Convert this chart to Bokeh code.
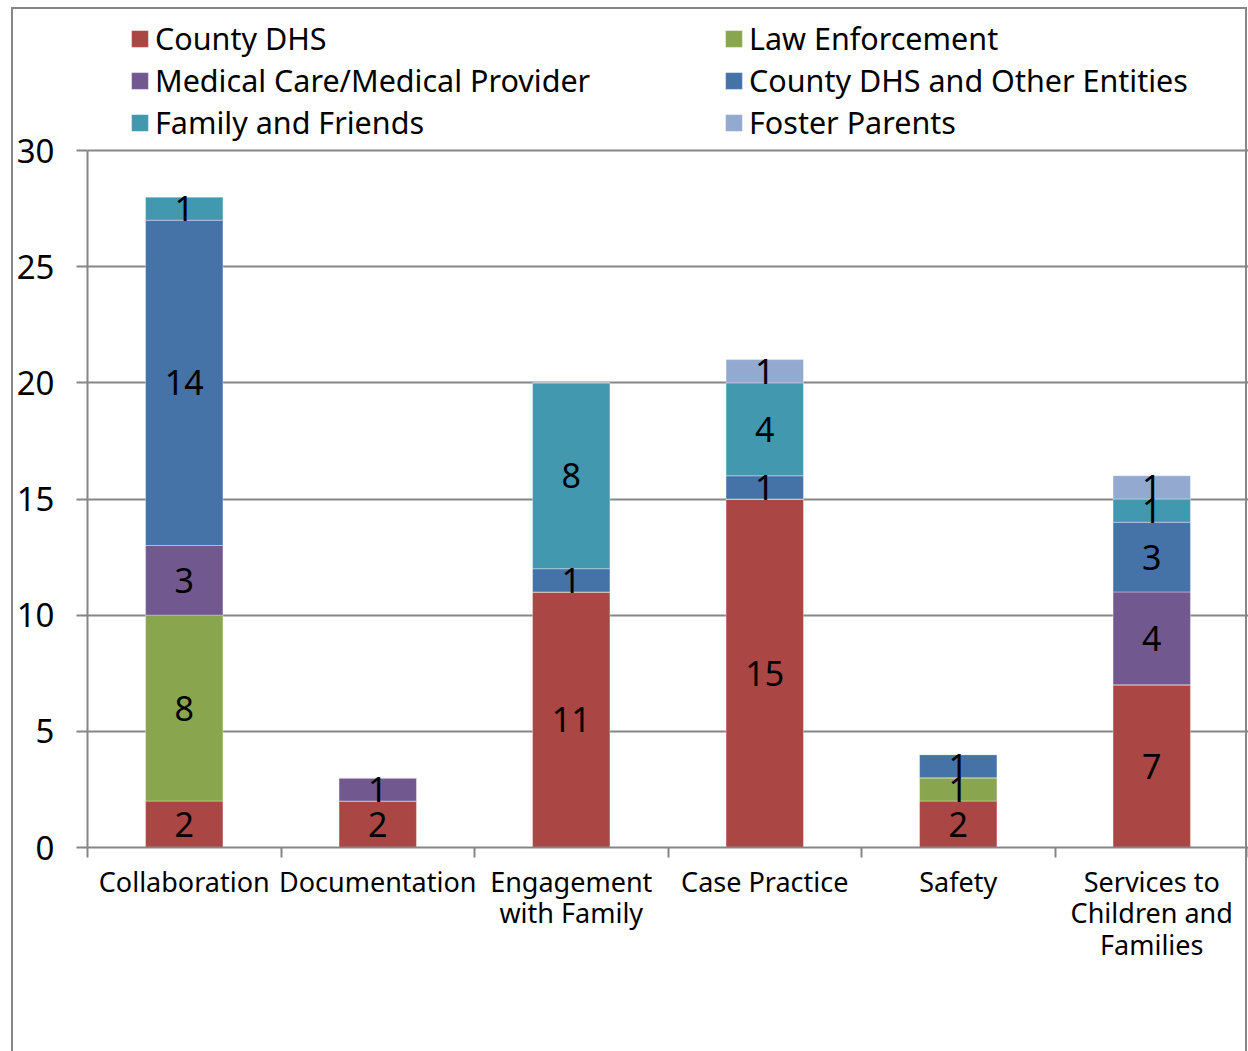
from bokeh.plotting import figure
from bokeh.models import (LinearAxis, FixedTicker, Range1d, ColumnDataSource,
                          Legend, LegendItem, Grid, InlineStyleSheet)
from bokeh.core.properties import value
from bokeh.embed import file_html
from bokeh.resources import INLINE

# ---- data -------------------------------------------------------------
categories = ["Collaboration", "Documentation", "Engagement\nwith Family",
              "Case Practice", "Safety", "Services to\nChildren and\nFamilies"]
series_names = ["County DHS", "Law Enforcement", "Medical Care/Medical Provider",
                "County DHS and Other Entities", "Family and Friends", "Foster Parents"]
county_dhs = [2, 2, 11, 15, 2, 7]
law_enforcement = [8, 0, 0, 0, 1, 0]
medical_care = [3, 1, 0, 0, 0, 4]
dhs_and_other = [14, 0, 1, 1, 1, 3]
family_friends = [1, 0, 8, 4, 0, 1]
foster_parents = [0, 0, 0, 1, 0, 1]
y_ticks = [0, 5, 10, 15, 20, 25, 30]

series_values = [county_dhs, law_enforcement, medical_care,
                 dhs_and_other, family_friends, foster_parents]
colors = ["#AA4643", "#89A54E", "#71588F", "#4572A7", "#4198AF", "#93A9CF"]

FONT = "Noto Sans"
GRAY = "#868686"

# plot area: the value axis (0..30) takes the lower 697 px of an 837 px frame;
# the space above 30 holds the legend
Y_MAX = 30
FRAME_TOP, AXIS_TOP, FRAME_BOTTOM = 10, 150, 847
y_end = Y_MAX * (FRAME_BOTTOM - FRAME_TOP) / (FRAME_BOTTOM - AXIS_TOP)

# ---- figure -----------------------------------------------------------
p = figure(width=1248, height=1051, x_range=Range1d(0, len(categories)),
           y_range=Range1d(0, y_end), x_axis_type=None, y_axis_type=None,
           output_backend="svg", toolbar_location=None,
           min_border_left=87, min_border_right=0,
           min_border_top=FRAME_TOP, min_border_bottom=1051 - FRAME_BOTTOM)
p.outline_line_color = None
# transparent canvas so the page background (with the chart frame) shows through
p.background_fill_color = None
p.border_fill_color = None

# outer chart frame, open at the bottom where the page cuts it
line = "linear-gradient(#868686, #868686)"
p.stylesheets = [InlineStyleSheet(css=f"""
:host {{
  background:
    {line} 11px 7px / 2px 1044px no-repeat,
    {line} 11px 7px / 1236px 2px no-repeat,
    {line} 1245px 7px / 2px 1044px no-repeat,
    #ffffff;
}}
""")]

# y axis with outward ticks, drawn only over 0..30
yaxis = LinearAxis(ticker=FixedTicker(ticks=y_ticks, minor_ticks=[]), bounds=(0, Y_MAX))
yaxis.axis_line_color = GRAY
yaxis.axis_line_width = 2
yaxis.major_tick_line_color = GRAY
yaxis.major_tick_line_width = 2
yaxis.major_tick_out = 11
yaxis.major_tick_in = 0
yaxis.minor_tick_line_color = None
yaxis.major_label_standoff = 22
yaxis.major_label_text_font = FONT
yaxis.major_label_text_font_size = "33px"
yaxis.major_label_text_color = "black"
p.add_layout(yaxis, "left")

p.add_layout(Grid(dimension=1, ticker=yaxis.ticker,
                  grid_line_color=GRAY, grid_line_width=2))

# x axis: labels at category centres, tick marks at category boundaries
centers = [i + 0.5 for i in range(len(categories))]
xaxis = LinearAxis(ticker=FixedTicker(ticks=centers,
                                      minor_ticks=list(range(len(categories) + 1))),
                   major_label_overrides={c: lab for c, lab in zip(centers, categories)})
xaxis.axis_line_color = GRAY
xaxis.axis_line_width = 2
xaxis.major_tick_line_color = None
xaxis.major_tick_out = 0
xaxis.major_tick_in = 0
xaxis.minor_tick_line_color = GRAY
xaxis.minor_tick_line_width = 2
xaxis.minor_tick_out = 10
xaxis.minor_tick_in = 0
xaxis.major_label_standoff = 5
xaxis.major_label_text_font = FONT
xaxis.major_label_text_font_size = "27px"
xaxis.major_label_text_color = "black"
xaxis.major_label_text_line_height = 0.86
p.add_layout(xaxis, "below")

# ---- stacked bars -----------------------------------------------------
keys = ["s%d" % i for i in range(len(series_names))]
data = dict(x=centers)
for k, vals in zip(keys, series_values):
    data[k] = vals
source = ColumnDataSource(data)

renderers = p.vbar_stack(keys, x="x", width=0.4, source=source,
                         fill_color=colors, line_color="white", line_alpha=0.35,
                         line_width=1)

# value labels centred in each segment
lab_x, lab_y, lab_t = [], [], []
for ci, xc in enumerate(centers):
    base = 0
    for vals in series_values:
        v = vals[ci]
        if v:
            lab_x.append(xc)
            lab_y.append(base + v / 2)
            lab_t.append(str(v))
        base += v
p.text(x="x", y="y", text="t",
       source=ColumnDataSource(dict(x=lab_x, y=lab_y, t=lab_t)),
       text_font=value(FONT), text_font_size="34px", text_color="black",
       text_align="center", text_baseline="middle")

# ---- legend: two columns of three entries above the bars -------------
def add_legend(indices, x, y):
    items = [LegendItem(label=series_names[i], renderers=[renderers[i]]) for i in indices]
    lg = Legend(items=items, location=(x, y), orientation="vertical",
                glyph_width=21, glyph_height=21, label_standoff=5,
                label_height=41, spacing=0, padding=0, margin=0,
                border_line_color=None, background_fill_alpha=0,
                label_text_font=FONT, label_text_font_size="30.5px",
                label_text_color="black")
    p.add_layout(lg)

add_legend([0, 2, 4], 42, 704)
add_legend([1, 3, 5], 636, 704)

open("out.html", "w").write(file_html(p, INLINE))
